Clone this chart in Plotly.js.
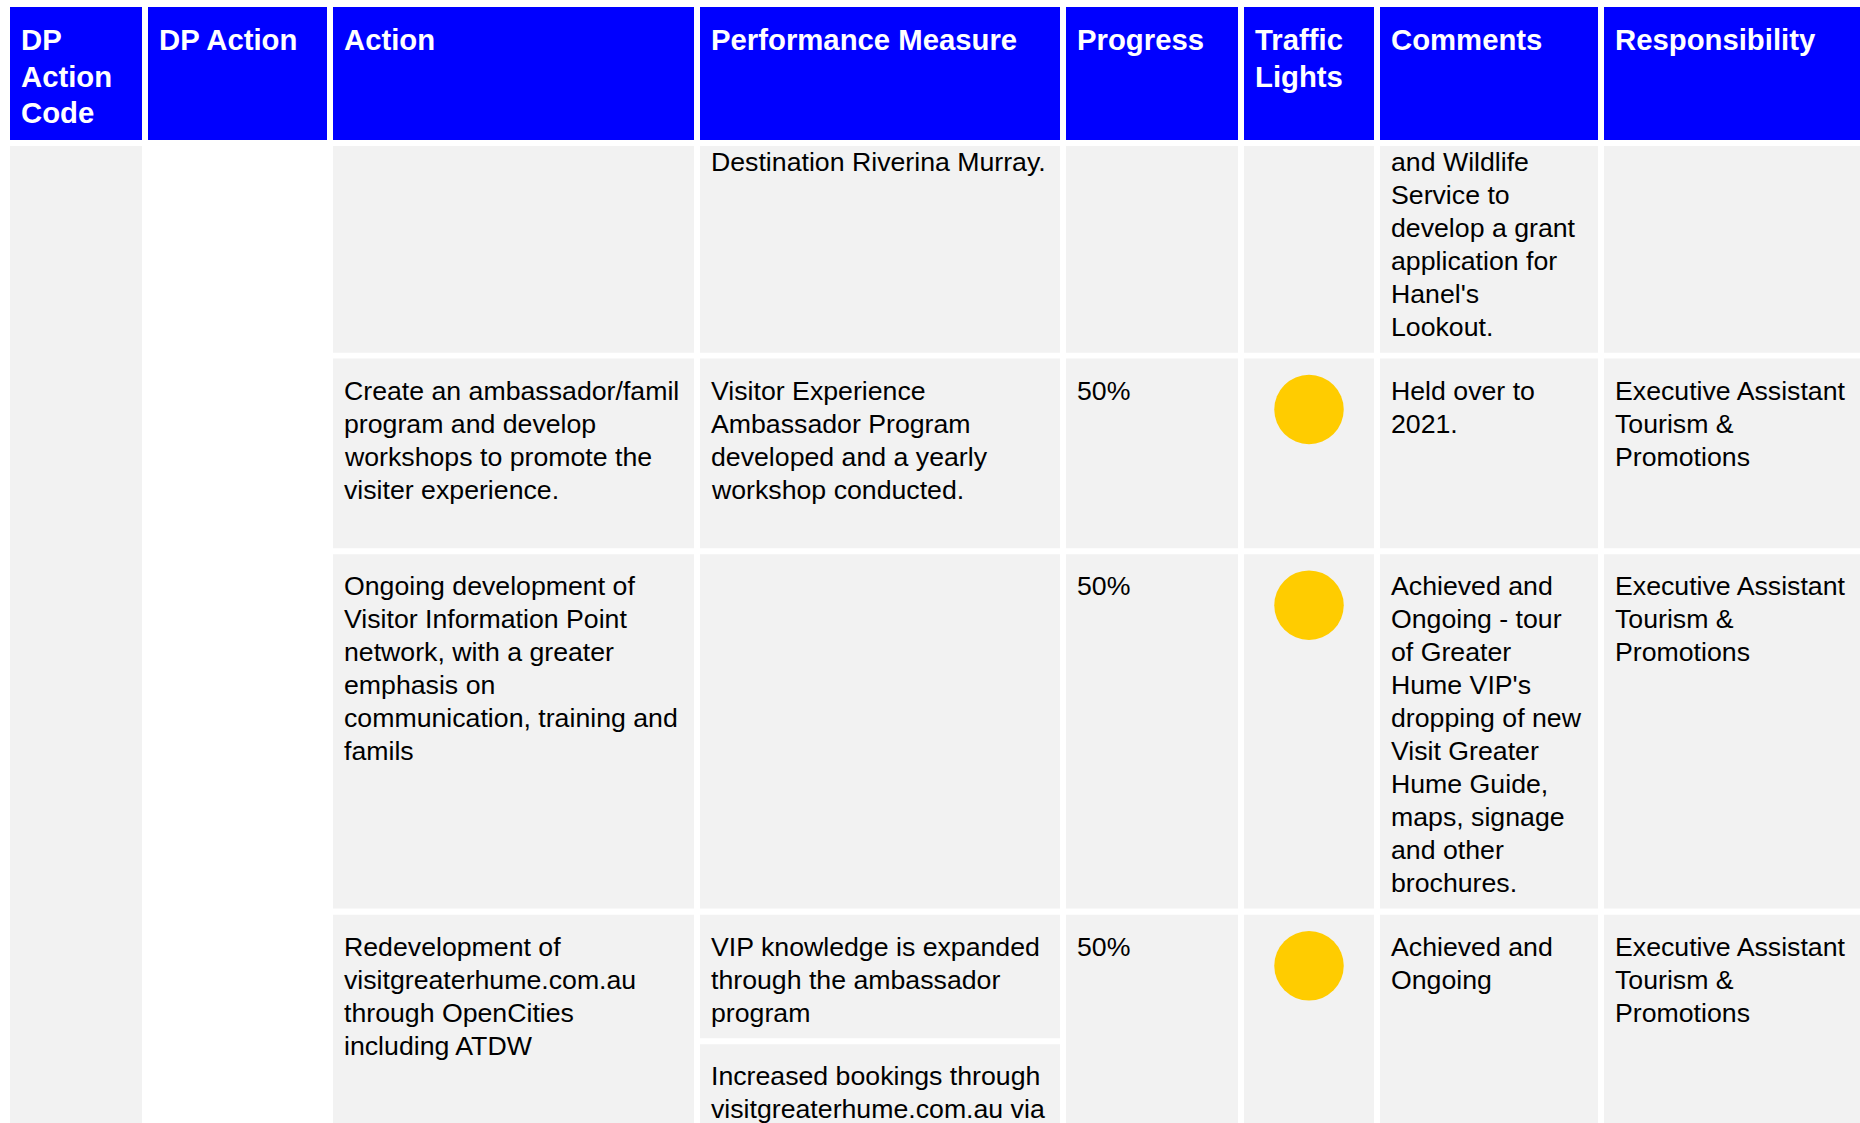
<!DOCTYPE html>
<html>
<head>
<meta charset="utf-8">
<script src="https://cdn.plot.ly/plotly-3.0.1.min.js"></script>
<style>
html,body{margin:0;padding:0;background:#ffffff;overflow:hidden}
#chart{width:1860px;height:1123px}
</style>
</head>
<body>
<div id="chart"></div>
<script>
// ---------------- DATA ----------------
const headers = [
  ["DP", "Action", "Code"],
  ["DP Action"],
  ["Action"],
  ["Performance Measure"],
  ["Progress"],
  ["Traffic", "Lights"],
  ["Comments"],
  ["Responsibility"]
];

const dpActionCode = [[], [], [], []];
const dpAction = [[], [], [], []];

const actions = [
  [],
  ["Create an ambassador/famil", "program and develop", "workshops to promote the", "visiter experience."],
  ["Ongoing development of", "Visitor Information Point", "network, with a greater", "emphasis on", "communication, training and", "famils"],
  ["Redevelopment of", "visitgreaterhume.com.au", "through OpenCities", "including ATDW"]
];

const measures = [
  [["Destination Riverina Murray."]],
  [["Visitor Experience", "Ambassador Program", "developed and a yearly", "workshop conducted."]],
  [[]],
  [["VIP knowledge is expanded", "through the ambassador", "program"],
   ["Increased bookings through", "visitgreaterhume.com.au via"]]
];

const progress = [null, 50, 50, 50];

const trafficLights = [null, "amber", "amber", "amber"];

const comments = [
  ["and Wildlife", "Service to", "develop a grant", "application for", "Hanel's", "Lookout."],
  ["Held over to", "2021."],
  ["Achieved and", "Ongoing - tour", "of Greater", "Hume VIP's", "dropping of new", "Visit Greater", "Hume Guide,", "maps, signage", "and other", "brochures."],
  ["Achieved and", "Ongoing"]
];

const responsibility = [
  [],
  ["Executive Assistant", "Tourism &", "Promotions"],
  ["Executive Assistant", "Tourism &", "Promotions"],
  ["Executive Assistant", "Tourism &", "Promotions"]
];

// ---------------- LAYOUT / STYLE ----------------
const W = 1860, H = 1123;
const colEdges = [[10,142],[148,327],[333,694],[700,1060],[1066,1238],[1244,1374],[1380,1598],[1604,1875]];
const headerBox = [7,140];
const rowBoxes = [[146,352.7],[358.5,548.3],[554.2,908.5],[914.8,1140]];
const measureSubBoxes = [null, null, null, [[914.8,1038.3],[1044.3,1140]]];
const firstBaseline = [171.5, 400.5, 594.8, 955.8];
const measureBaselines = [[171.5],[400.5],[594.8],[955.8,1084.8]];
const lineStep = 33, headLineStep = 36.3, headBaseline = 50;
const padX = 10.5;
const lightOffset = 51, lightSize = 69.5;
const BLUE = "#0000FF", GRAY = "#F2F2F2", WHITE = "#FFFFFF";
const lightColors = {amber: "#FFCC00", green: "#00B050", red: "#FF0000"};
const FAMILY = "Liberation Sans, Arial, sans-serif";
const bodyFont = {family: FAMILY, size: 26.7, color: "#000000"};
const headFont = {family: FAMILY, size: 29.3, color: "#FFFFFF", weight: 700};

const shapes = [];
const annotations = [];

function rect(x0, x1, y0, y1, color) {
  shapes.push({type: "rect", xref: "x", yref: "y", x0: x0, x1: x1, y0: y0, y1: y1,
    fillcolor: color, line: {width: 0}, layer: "below"});
}
function lines(arr, x, baseline, step, font) {
  arr.forEach(function (t, i) {
    const b = baseline + i * step;
    annotations.push({
      xref: "x", yref: "y", x: x, y: b - 0.3465 * font.size,
      text: t, showarrow: false, xanchor: "left", yanchor: "middle",
      align: "left", borderpad: 0, borderwidth: 0, font: font
    });
  });
}

// header
headers.forEach(function (h, c) {
  rect(colEdges[c][0], colEdges[c][1], headerBox[0], headerBox[1], BLUE);
  lines(h, colEdges[c][0] + padX, headBaseline, headLineStep, headFont);
});

// column 1 (merged across rows) and column 2
rect(colEdges[0][0], colEdges[0][1], rowBoxes[0][0], rowBoxes[3][1], GRAY);
rect(colEdges[1][0], colEdges[1][1], rowBoxes[0][0], rowBoxes[3][1], WHITE);

rowBoxes.forEach(function (rb, r) {
  for (let c = 2; c < 8; c++) {
    if (c === 3 && measureSubBoxes[r]) {
      measureSubBoxes[r].forEach(function (sb) { rect(colEdges[c][0], colEdges[c][1], sb[0], sb[1], GRAY); });
    } else {
      rect(colEdges[c][0], colEdges[c][1], rb[0], rb[1], GRAY);
    }
  }
  lines(dpActionCode[r], colEdges[0][0] + padX, firstBaseline[r], lineStep, bodyFont);
  lines(dpAction[r], colEdges[1][0] + padX, firstBaseline[r], lineStep, bodyFont);
  lines(actions[r], colEdges[2][0] + padX, firstBaseline[r], lineStep, bodyFont);
  measures[r].forEach(function (m, k) {
    lines(m, colEdges[3][0] + padX, measureBaselines[r][k], lineStep, bodyFont);
  });
  if (progress[r] !== null) {
    lines([progress[r] + "%"], colEdges[4][0] + padX, firstBaseline[r], lineStep, bodyFont);
  }
  lines(comments[r], colEdges[6][0] + padX, firstBaseline[r], lineStep, bodyFont);
  lines(responsibility[r], colEdges[7][0] + padX, firstBaseline[r], lineStep, bodyFont);
});

// traffic lights
const lx = [], ly = [], lc = [];
trafficLights.forEach(function (t, r) {
  if (!t) return;
  lx.push((colEdges[5][0] + colEdges[5][1]) / 2);
  ly.push(rowBoxes[r][0] + lightOffset);
  lc.push(lightColors[t]);
});

const traces = [{
  type: "scatter", mode: "markers", x: lx, y: ly,
  marker: {size: lightSize, color: lc, line: {width: 0}},
  hoverinfo: "skip", showlegend: false, cliponaxis: false
}];

const layout = {
  width: W, height: H,
  margin: {l: 0, r: 0, t: 0, b: 0, pad: 0},
  paper_bgcolor: WHITE, plot_bgcolor: WHITE,
  xaxis: {range: [0, W], visible: false, fixedrange: true},
  yaxis: {range: [H, 0], visible: false, fixedrange: true},
  showlegend: false, hovermode: false,
  shapes: shapes, annotations: annotations
};

Plotly.newPlot("chart", traces, layout, {displayModeBar: false, staticPlot: true});
</script>
</body>
</html>
